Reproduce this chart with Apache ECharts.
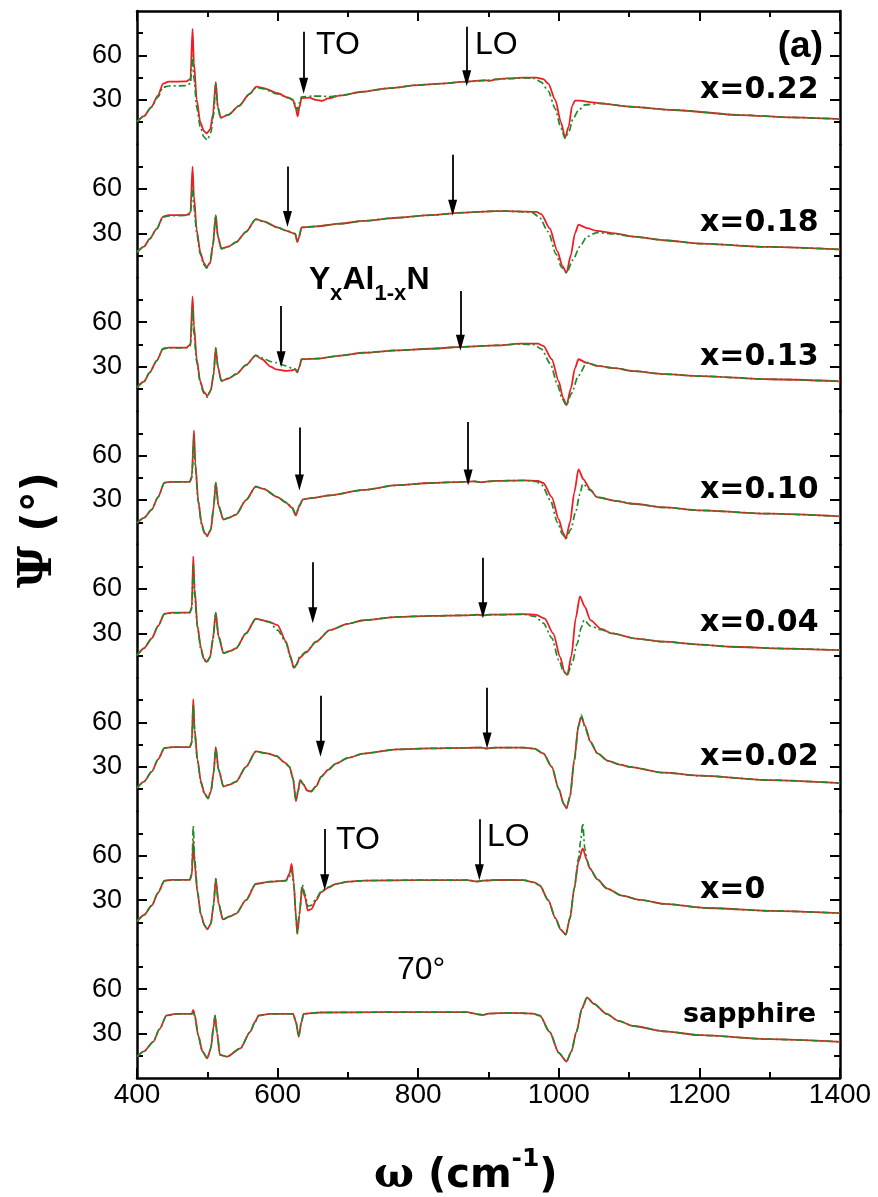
<!DOCTYPE html>
<html><head><meta charset="utf-8">
<script src="https://cdn.jsdelivr.net/npm/echarts@6/dist/echarts.min.js"></script>
<style>html,body{margin:0;padding:0;background:#fff}#c{width:878px;height:1197px}</style>
</head><body><div id="c"></div>
<script>
// ---------------- DATA ----------------
const panelLabels = ['x=0.22','x=0.18','x=0.13','x=0.10','x=0.04','x=0.02','x=0','sapphire'];
const xTicks = [400, 600, 800, 1000, 1200, 1400];
const yMajorTicks = [30, 60];
const yMinorTicks = [15, 45, 75];

// red solid (measured)
const meas022 = [[400,15.3],[410,19],[420,25],[430,33],[437,41],[445,42.3],[470,42.5],[476,44],[479,78],[481,55],[485,30],[490,15],[495,9],[499,7.5],[504,10],[508,20],[512,42],[515,25],[519,18],[530,20],[545,26],[560,34],[570,39],[580,38],[600,34.5],[615,31.5],[622,30],[626,24],[628.5,19],[631,25],[634,31.2],[645,31.5],[655,30],[663,29.3],[672,31],[690,33],[720,35.5],[760,38],[800,40],[831,41],[869,42.3],[895,43.3],[902,42.8],[910,43.8],[926,44.5],[950,45],[968,45],[978,44],[985,41],[995,30],[1003,15],[1009,4.5],[1014,12],[1019,26],[1023,29.5],[1030,29.5],[1045,28.5],[1059,27.7],[1100,25.5],[1163,23.2],[1258,19.8],[1330,18.2],[1400,17]];
const meas018 = [[400,17.3],[410,21],[418,26.2],[428,33],[437,41.3],[445,42.2],[470,42.2],[476,44],[479,75],[481,55],[485,32],[490,17.3],[495,10],[499,7.3],[504,10],[508,22],[512,42.2],[515,28],[520,19.6],[530,21],[541,24],[555,31],[569,39.6],[580,38],[600,34],[612,31.8],[625,29.6],[628,24],[631,28],[634,34],[655,34.7],[690,36.5],[722,38.4],[770,40.5],[817,42.2],[864,44],[911,45],[940,44.8],[968,44.5],[975,43],[987,33.4],[998,18],[1005,8],[1011,3.4],[1017,15],[1023,30],[1028,35.8],[1040,33.5],[1054,31.6],[1080,30],[1106,27.7],[1150,25.3],[1201,23],[1300,20.8],[1400,19.1]];
const meas013 = [[400,15.9],[410,20],[418,26],[428,34],[437,42.1],[445,42.8],[470,42.8],[476,45],[479,77.4],[481,58],[485,35],[490,20],[495,13],[500,10.3],[505,14],[509,25],[512,42.8],[515,30],[520,20.4],[530,22],[541,24.9],[555,31],[569,37.6],[578,35],[590,30],[598,28.2],[612,27.1],[620,27.5],[625,28.2],[628,26],[631,30],[634,35],[655,35.4],[690,37.5],[722,39.4],[770,41],[817,42.1],[864,43.4],[911,44.3],[945,45.5],[970,45.5],[978,44],[990,35],[1000,20],[1006,9],[1011,4],[1017,15],[1023,29],[1028,35],[1040,32.5],[1055,30.5],[1080,29],[1106,27],[1150,25],[1201,23.6],[1300,21.5],[1400,20.1]];
const meas010 = [[400,14.5],[410,18],[421,23.6],[430,32],[439,41.8],[450,42.3],[475,42.3],[478,46],[481,77],[483,55],[487,30],[492,14],[496,8],[500,5.9],[505,10],[509,25],[512,41.8],[516,26],[523,16.8],[530,18],[541,20.2],[555,30],[569,39.1],[580,37.5],[600,32],[612,28.2],[620,25],[626,19.5],[631,26],[636,30.5],[650,31.5],[674,33.2],[722,36.8],[770,40],[817,41.5],[864,42.3],[880,42.6],[890,42],[900,42.6],[911,43],[950,43.3],[970,43],[978,41.5],[990,32],[1000,17],[1006,8],[1010,4],[1016,15],[1022,35],[1028,50.7],[1035,44],[1045,37],[1054,32],[1080,29.5],[1106,27.5],[1150,25],[1201,23],[1300,20.8],[1400,19]];
const meas004 = [[400,15.1],[410,20],[421,26.7],[430,35],[439,43.3],[450,44],[475,44],[478,48],[480,82],[482,60],[486,35],[491,20],[495,13],[499,10.7],[504,14],[508,26],[512,44],[516,28],[523,16.7],[532,18],[541,20],[555,30],[569,40],[588,37.8],[600,35.6],[612,24.4],[618,15],[623,6.7],[627,9],[631,13.3],[640,17],[655,24.4],[674,32.2],[700,36.5],[722,38.9],[770,41.1],[817,41.8],[864,42.2],[885,42.6],[892,42],[900,42.6],[911,42.7],[950,43],[968,42.5],[980,40],[992,30],[1002,14],[1008,4],[1012,2],[1018,15],[1024,40],[1030,55],[1037,48],[1045,39],[1060,33],[1076,30],[1110,26.5],[1149,24.4],[1200,22.5],[1244,21],[1320,19.8],[1400,18.7]];
const meas002 = [[400,15.6],[410,20],[421,26.7],[430,35],[439,42.7],[450,43.3],[475,43.3],[478,47],[480,75.6],[482,55],[486,35],[491,20],[496,12],[501,8.9],[505,13],[509,26],[512,43.3],[516,28],[523,16.7],[532,18],[541,20],[555,30],[569,40.4],[585,39],[598,37.3],[610,33],[617,30],[622,22],[626,6.7],[629,13],[632,21.1],[637,18],[642,14],[648,13.3],[655,17],[662,23.3],[672,28],[683,32.2],[700,36],[722,38.9],[770,41.8],[817,42.4],[864,42.7],[890,43],[898,42.3],[905,42.8],[911,42.9],[950,43],[965,42.3],[978,39],[990,30],[1000,15],[1007,5],[1011,2],[1016,10],[1022,35],[1028,58],[1032,63.7],[1037,58],[1045,47],[1055,39],[1070,34],[1087,31.5],[1100,30],[1150,26],[1200,24],[1300,21],[1400,19]];
const meas000 = [[400,15.7],[410,20],[421,26.4],[430,35],[439,43.2],[450,43.7],[475,43.7],[478,47],[480,70],[482,55],[486,35],[491,20],[496,13],[500,10.3],[505,14],[509,27],[512,44.3],[516,28],[522,17],[532,19],[541,20.9],[555,30],[569,41],[590,42.5],[612,43.2],[617,48],[620,54.4],[623,42],[626,20],[628,7.4],[631,20],[635,38.7],[639,32],[643,23],[648,24],[655,30],[662,35.4],[672,38.5],[683,41],[700,42.5],[722,43.2],[800,43.5],[870,43.5],[884,42.6],[892,43.2],[916,43.7],[950,43.5],[965,42],[973,39.9],[985,30],[995,18],[1003,10],[1010,6.8],[1016,18],[1022,38],[1028,56],[1034,64.9],[1040,57],[1044,51.5],[1055,44],[1068,38],[1090,33],[1116,30.2],[1150,27.5],[1211,24.7],[1300,22.8],[1400,21.2]];
const measSap = [[400,14.4],[410,18],[423,24.4],[432,33],[442,42.2],[455,43.3],[478,43.3],[480,46],[482,43],[487,28.9],[493,18],[500,13.3],[505,20],[509,35],[511,42.2],[514,30],[518,15.6],[528,14.4],[547,20],[561,31.1],[568,38],[573,42.2],[590,43.3],[622,43.3],[626,38],[630,27.8],[634,38],[637,43.3],[660,44.2],[750,44.4],[869,44.4],[885,43],[892,42.5],[900,43.5],[930,44],[963,43.5],[973,42.2],[987,31.1],[1000,17],[1011,11.1],[1018,18],[1025,31.1],[1033,47],[1040,54.4],[1050,50],[1068,43.3],[1085,38.5],[1106,35.1],[1150,31.5],[1201,28.9],[1300,26.2],[1400,24.4]];

// green dash-dot (calculated)
const calc022 = [[400,15.3],[410,19],[420,25],[430,32],[437,38.5],[445,39.4],[470,39.6],[476,41],[479,60],[481,45],[485,25],[490,12],[495,5],[500,3],[505,8],[509,20],[512,41],[515,25],[519,18],[530,20],[545,26],[560,34],[570,38.5],[580,37.5],[600,34],[615,31.5],[622,30],[626,26],[628.5,23],[631,28],[634,32],[650,32.6],[663,32.6],[672,32.2],[690,33],[720,35.5],[760,38],[800,40],[831,41],[869,42.3],[895,43],[910,43.8],[926,44.3],[950,44.8],[965,44.5],[975,42],[985,36],[995,24],[1003,11],[1009,4],[1014,8],[1020,17],[1028,23],[1037,26.6],[1059,27.7],[1100,25.5],[1163,23.2],[1258,19.8],[1330,18.2],[1400,17]];
const calc018 = [[400,17.3],[410,21],[418,26.2],[428,33],[437,41],[445,41.8],[470,42],[476,43],[479,62],[481,48],[485,30],[490,16],[495,9],[499,6.5],[504,10],[508,22],[512,42],[515,28],[520,19.6],[530,21],[541,24],[555,31],[569,39.4],[580,38],[600,34],[612,31.8],[625,29.8],[628,25],[631,29],[634,34],[655,34.7],[690,36.5],[722,38.4],[770,40.5],[817,42.2],[864,44],[911,45],[940,44.8],[962,44],[972,41],[985,31],[996,16],[1004,7],[1011,3.4],[1020,12],[1030,21],[1040,27.7],[1054,30.5],[1080,29.5],[1106,27.7],[1150,25.3],[1201,23],[1300,20.8],[1400,19.1]];
const calc013 = [[400,15.9],[410,20],[418,26],[428,34],[437,42],[445,42.6],[470,42.7],[476,44],[479,70],[481,52],[485,33],[490,19],[495,12],[500,9.5],[505,14],[509,25],[512,42.6],[515,30],[520,20.4],[530,22],[541,24.9],[555,31],[569,37.6],[578,36],[590,33.5],[598,32.7],[612,30.5],[620,29],[625,28.5],[628,26.5],[631,30],[634,35],[655,35.4],[690,37.5],[722,39.4],[770,41],[817,42.1],[864,43.4],[911,44.3],[945,45.3],[965,44.8],[975,42],[988,32],[998,18],[1005,8],[1011,4],[1018,12],[1028,24],[1040,32.8],[1055,30.5],[1080,29],[1106,27],[1150,25],[1201,23.6],[1300,21.5],[1400,20.1]];
const calc010 = [[400,14.5],[410,18],[421,23.6],[430,32],[439,41.6],[450,42.2],[475,42.2],[478,45],[481,72],[483,52],[487,29],[492,13],[496,7.5],[500,5.5],[505,10],[509,25],[512,41.6],[516,26],[523,16.8],[530,18],[541,20.2],[555,30],[569,39],[580,37.5],[600,32],[612,28.4],[620,25.5],[626,20.5],[631,26.5],[636,30.5],[650,31.5],[674,33.2],[722,36.8],[770,40],[817,41.5],[864,42.3],[880,42.6],[890,42],[900,42.6],[911,43],[950,43.2],[968,42.5],[976,40],[988,30],[998,15],[1005,7],[1010,4],[1017,10],[1024,22],[1030,34],[1034,41],[1045,36.5],[1054,32],[1080,29.5],[1106,27.5],[1150,25],[1201,23],[1300,20.8],[1400,19]];
const calc004 = [[400,15.1],[410,20],[421,26.7],[430,35],[439,43],[450,43.8],[475,44],[478,47],[480,76],[482,56],[486,34],[491,19],[495,12.5],[499,10.2],[504,14],[508,26],[512,43.8],[516,28],[523,16.7],[532,18],[541,20],[555,30],[569,39.8],[588,37.8],[600,32.2],[612,24],[618,14],[623,6.2],[627,9],[631,14],[640,17.5],[655,24.4],[674,32.2],[700,36.5],[722,38.9],[770,41.1],[817,41.8],[864,42.2],[885,42.6],[892,42],[900,42.6],[911,42.7],[950,42.8],[966,41.5],[978,37],[990,27],[1000,12],[1007,4],[1012,2],[1019,10],[1026,23],[1032,34],[1036,39],[1045,35],[1060,32.5],[1076,30],[1110,26.5],[1149,24.4],[1200,22.5],[1244,21],[1320,19.8],[1400,18.7]];
const calc002 = [[400,15.6],[410,20],[421,26.7],[430,35],[439,42.5],[450,43.2],[475,43.2],[478,46],[480,72],[482,53],[486,34],[491,19],[496,11.5],[501,8.5],[505,13],[509,26],[512,43],[516,28],[523,16.7],[532,18],[541,20],[555,30],[569,40.2],[585,39],[598,37.3],[610,33],[617,30],[622,22],[626,7.5],[629,13.5],[632,21],[637,18],[642,14.5],[648,13.8],[655,17],[662,23.3],[672,28],[683,32.2],[700,36],[722,38.9],[770,41.8],[817,42.4],[864,42.7],[890,43],[898,42.3],[905,42.8],[911,42.9],[950,43],[965,42.3],[978,39],[990,30],[1000,15],[1007,5],[1011,2],[1016,10],[1022,34],[1028,57],[1032,65],[1037,57],[1045,46.5],[1055,39],[1070,34],[1087,31.5],[1100,30],[1150,26],[1200,24],[1300,21],[1400,19]];
const calc000 = [[400,15.7],[410,20],[421,26.4],[430,35],[439,43],[450,43.6],[475,43.6],[478,48],[480,80],[482,58],[486,36],[491,20],[496,13],[500,10.3],[505,14],[509,27],[512,44.5],[516,28],[522,17],[532,19],[541,20.9],[555,30],[569,41],[590,42.5],[612,43.2],[617,46],[620,50],[623,40],[626,19],[628,7.4],[631,21],[635,40.5],[639,34],[643,26],[648,26.5],[655,31],[662,36],[672,38.8],[683,41],[700,42.5],[722,43.2],[800,43.5],[870,43.5],[884,42.6],[892,43.2],[916,43.7],[950,43.5],[965,42],[973,39.9],[985,30],[995,18],[1003,10],[1010,6.8],[1016,18],[1022,38],[1028,58],[1031,70],[1034,81.7],[1037,65],[1040,57],[1044,51.5],[1055,44],[1068,38],[1090,33],[1116,30.2],[1150,27.5],[1211,24.7],[1300,22.8],[1400,21.2]];
const calcSap = [[400,14.4],[410,18],[423,24.4],[432,33],[442,42],[455,43.2],[478,43.3],[480,44],[482,42],[487,28.9],[493,18],[500,13.3],[505,20],[509,35],[511,42],[514,30],[518,15.6],[528,14.4],[547,20],[561,31.1],[568,38],[573,42],[590,43.3],[622,43.3],[626,38],[630,28],[634,38],[637,43.3],[660,44.2],[750,44.4],[869,44.4],[885,43],[892,42.5],[900,43.5],[930,44],[963,43.5],[973,42],[987,31],[1000,17],[1011,11.3],[1018,18],[1025,31],[1033,47],[1040,54],[1050,50],[1068,43.3],[1085,38.5],[1106,35.1],[1150,31.5],[1201,28.9],[1300,26.2],[1400,24.4]];

// TO / LO phonon arrows (panels 0..6): frequency, arrow top and tip (Psi units)
const toFreq = [637, 614, 605, 631, 650, 661, 667];
const toTop  = [76, 75, 71, 79, 78, 78, 78];
const toTip  = [39.5, 39.6, 35, 41.8, 42.2, 42.2, 42.1];
const loFreq = [869, 849, 860, 871, 892, 898, 887];
const loTop  = [79.4, 83, 81, 82.7, 81, 83.3, 84.6];
const loTip  = [44.6, 47.3, 46.1, 45.2, 45.6, 47.8, 48.8];

const measured = [meas022, meas018, meas013, meas010, meas004, meas002, meas000, measSap];
const calculated = [calc022, calc018, calc013, calc010, calc004, calc002, calc000, calcSap];

// ---------------- LAYOUT ----------------
const L = 137, PW = 703, TOP = 11, PH = 133.375, N = 8;
const black = '#000';
const grids = [], xAxes = [], yAxes = [], series = [];
for (let k = 0; k < N; k++) {
  grids.push({left: L, width: PW, top: TOP + PH * k, height: PH, outerBoundsMode: 'none'});
  const isTop = k === 0, isBot = k === N - 1;
  xAxes.push({
    gridIndex: k, type: 'value', min: xTicks[0], max: xTicks[xTicks.length - 1], interval: 200,
    show: isTop || isBot, position: isTop ? 'top' : 'bottom',
    axisLine: {show: true, onZero: false, lineStyle: {color: black, width: 2.5}},
    axisTick: {show: true, inside: true, length: 10, lineStyle: {color: black, width: 2}},
    minorTick: {show: true, splitNumber: 2, length: 6, lineStyle: {color: black, width: 2}},
    axisLabel: {show: isBot, fontSize: 28, fontFamily: 'Liberation Sans', color: black, margin: 3,
                formatter: function (v) { return String(v); }},
    splitLine: {show: false}
  });
  const yBase = {gridIndex: k, type: 'value', min: 0, max: 90, splitLine: {show: false}};
  ['left', 'right'].forEach(function (pos) {
    yAxes.push(Object.assign({}, yBase, {
      position: pos,
      axisLine: {show: true, onZero: false, lineStyle: {color: black, width: 2.5}},
      axisTick: {show: true, inside: true, length: 10, customValues: yMajorTicks, lineStyle: {color: black, width: 2}},
      axisLabel: {show: pos === 'left', customValues: yMajorTicks, fontSize: 27, fontFamily: 'Liberation Sans', color: black, margin: 15}
    }));
    yAxes.push(Object.assign({}, yBase, {
      position: pos,
      axisLine: {show: false},
      axisTick: {show: true, inside: true, length: 6, customValues: yMinorTicks, lineStyle: {color: black, width: 2}},
      axisLabel: {show: false}
    }));
  });
  const red = {
    type: 'line', xAxisIndex: k, yAxisIndex: 4 * k, data: measured[k], showSymbol: false,
    smooth: 0.25, smoothMonotone: 'x', lineStyle: {color: '#f01c24', width: 1.8}, z: 2, silent: true
  };
  if (k < 7) {
    red.markLine = {
      silent: true, symbol: ['none', 'triangle'], symbolSize: [9, 16],
      lineStyle: {color: black, width: 1.8, type: 'solid'}, label: {show: false},
      data: [
        [{coord: [toFreq[k], toTop[k]]}, {coord: [toFreq[k], toTip[k]]}],
        [{coord: [loFreq[k], loTop[k]]}, {coord: [loFreq[k], loTip[k]]}]
      ]
    };
  }
  series.push(red);
  series.push({
    type: 'line', xAxisIndex: k, yAxisIndex: 4 * k, data: calculated[k], showSymbol: false,
    smooth: 0.25, smoothMonotone: 'x', lineStyle: {color: '#1f8a2a', width: 1.7, type: [7, 3, 2, 3]}, z: 3, silent: true
  });
}

// ---------------- TEXT ----------------
const txt = function (x, y, text, font, align) {
  return {type: 'text', x: x, y: y, z: 10, style: {text: text, font: font, fill: black, align: align || 'left', verticalAlign: 'middle'}};
};
const graphics = [];
graphics.push(txt(823, 47, '(a)', 'bold 37px "Liberation Sans"', 'right'));
for (let k = 0; k < N; k++) {
  if (k < 7) graphics.push(txt(700, TOP + PH * k + 79, panelLabels[k], 'bold 30px "DejaVu Sans"'));
  else graphics.push(txt(683, 1015, panelLabels[k], 'bold 27px "DejaVu Sans"'));
}
graphics.push(txt(316, 45, 'TO', '32px "Liberation Sans"'));
graphics.push(txt(475, 45, 'LO', '32px "Liberation Sans"'));
graphics.push(txt(336, 840, 'TO', '32px "Liberation Sans"'));
graphics.push(txt(487, 837, 'LO', '32px "Liberation Sans"'));
graphics.push(txt(397, 970, '70°', '32px "Liberation Sans"'));
// Y_x Al_{1-x} N
const mainF = 'bold 32px "Liberation Sans"', subF = 'bold 22px "Liberation Sans"';
graphics.push(txt(309, 280, 'Y', mainF));
graphics.push(txt(330, 294, 'x', subF));
graphics.push(txt(342.5, 280, 'Al', mainF));
graphics.push(txt(374.5, 294, '1-x', subF));
graphics.push(txt(406.5, 280, 'N', mainF));
// axis titles
graphics.push({type: 'text', x: 374, y: 1172, z: 10, style: {
  text: '{g|ω}{t| (cm}{p|-1}{t|)}', fill: black, verticalAlign: 'middle',
  rich: {g: {font: 'bold 42px "DejaVu Serif"', lineHeight: 50, verticalAlign: 'bottom'},
         t: {font: 'bold 40px "DejaVu Sans"', lineHeight: 50, verticalAlign: 'bottom'},
         p: {font: 'bold 25px "DejaVu Sans"', lineHeight: 26, verticalAlign: 'top'}}
}});
graphics.push({type: 'text', x: 37, y: 530, rotation: Math.PI / 2, z: 10, style: {
  text: '{g|Ψ}{t| (°)}', fill: black, align: 'center', verticalAlign: 'middle',
  rich: {g: {font: 'bold 46px "DejaVu Serif"', lineHeight: 50, verticalAlign: 'bottom'},
         t: {font: 'bold 42px "DejaVu Sans"', lineHeight: 50, verticalAlign: 'bottom'}}
}});

const chart = echarts.init(document.getElementById('c'), null, {renderer: 'canvas'});
chart.setOption({
  animation: false, backgroundColor: '#fff',
  grid: grids, xAxis: xAxes, yAxis: yAxes, series: series, graphic: graphics
});
</script></body></html>
